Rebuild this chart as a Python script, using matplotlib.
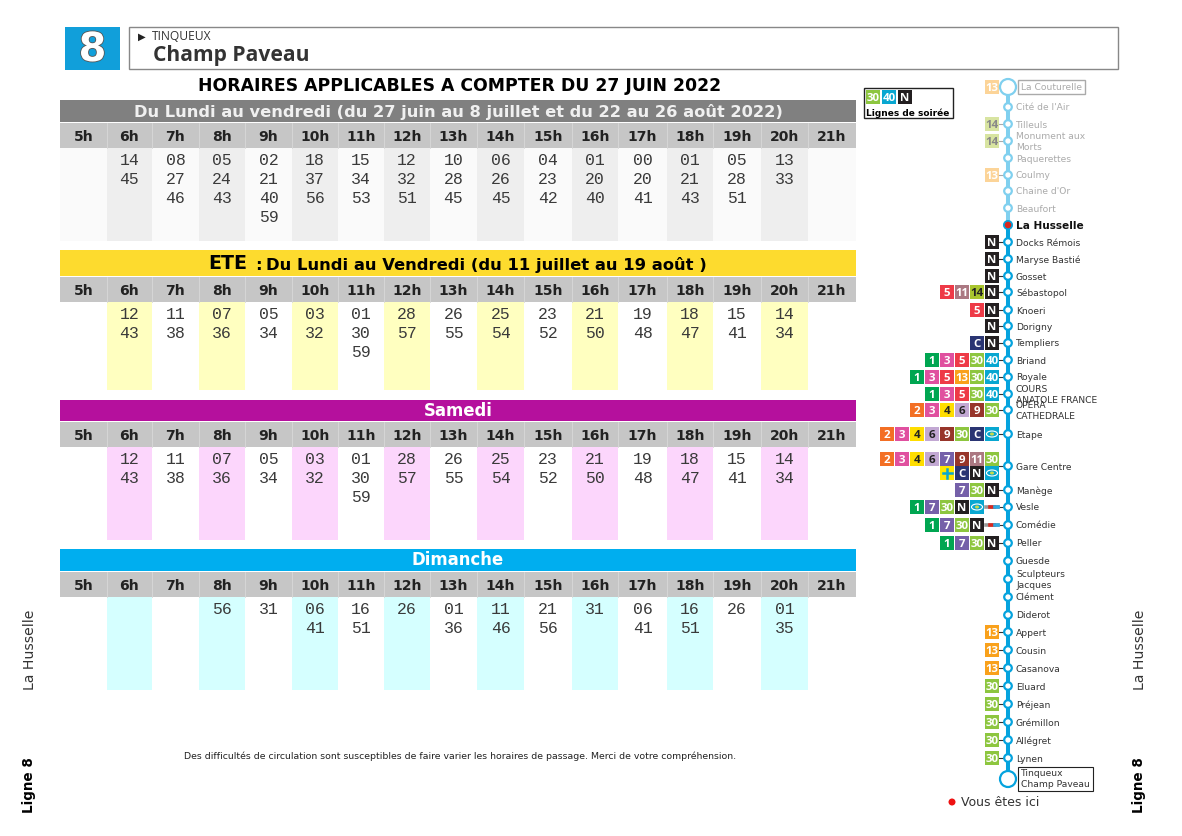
import matplotlib
matplotlib.use("Agg")
import matplotlib.pyplot as plt
import matplotlib.patheffects as pe
from matplotlib.patches import Rectangle, Circle, Ellipse

W, H = 1182, 836


def px(v):
    # font sizes below are given in pixels
    return v * 0.72


# ── Data ─────────────────────────────────────────────────────────────────────
HOURS = ["5h", "6h", "7h", "8h", "9h", "10h", "11h", "12h", "13h", "14h", "15h",
         "16h", "17h", "18h", "19h", "20h", "21h"]

WEEK_TIMES = [[], ["14", "45"], ["08", "27", "46"], ["05", "24", "43"],
              ["02", "21", "40", "59"], ["18", "37", "56"], ["15", "34", "53"],
              ["12", "32", "51"], ["10", "28", "45"], ["06", "26", "45"],
              ["04", "23", "42"], ["01", "20", "40"], ["00", "20", "41"],
              ["01", "21", "43"], ["05", "28", "51"], ["13", "33"], []]
SUMMER_TIMES = [[], ["12", "43"], ["11", "38"], ["07", "36"], ["05", "34"],
                ["03", "32"], ["01", "30", "59"], ["28", "57"], ["26", "55"],
                ["25", "54"], ["23", "52"], ["21", "50"], ["19", "48"],
                ["18", "47"], ["15", "41"], ["14", "34"], []]
SATURDAY_TIMES = [[], ["12", "43"], ["11", "38"], ["07", "36"], ["05", "34"],
                  ["03", "32"], ["01", "30", "59"], ["28", "57"], ["26", "55"],
                  ["25", "54"], ["23", "52"], ["21", "50"], ["19", "48"],
                  ["18", "47"], ["15", "41"], ["14", "34"], []]
SUNDAY_TIMES = [[], [], [], ["56"], ["31"], ["06", "41"], ["16", "51"], ["26"],
                ["01", "36"], ["11", "46"], ["21", "56"], ["31"], ["06", "41"],
                ["16", "51"], ["26"], ["01", "35"], []]

WEEK_TITLE = "Du Lundi au vendredi (du 27 juin au 8 juillet et du 22 au 26 août 2022)"
SUMMER_TITLE = "Du Lundi au Vendredi (du 11 juillet au 19 août )"
SATURDAY_TITLE = "Samedi"
SUNDAY_TITLE = "Dimanche"
MAIN_TITLE = "HORAIRES APPLICABLES A COMPTER DU 27 JUIN 2022"
NOTE = ("Des difficultés de circulation sont susceptibles de faire varier "
        "les horaires de passage. Merci de votre compréhension.")

STOP_NAMES = ["La Couturelle", "Cité de l'Air", "Tilleuls", "Monument aux\nMorts",
              "Paquerettes", "Coulmy", "Chaine d'Or", "Beaufort", "La Husselle",
              "Docks Rémois", "Maryse Bastié", "Gosset", "Sébastopol", "Knoeri",
              "Dorigny", "Templiers", "Briand", "Royale", "COURS\nANATOLE FRANCE",
              "OPÉRA\nCATHEDRALE", "Etape", "Gare Centre", "Manège", "Vesle",
              "Comédie", "Peller", "Guesde", "Sculpteurs\nJacques", "Clément",
              "Diderot", "Appert", "Cousin", "Casanova", "Eluard", "Préjean",
              "Grémillon", "Allégret", "Lynen", "Tinqueux\nChamp Paveau"]
STOP_LINES = [["13"], [], ["14"], ["14"], [], ["13"], [], [], [], ["N"], ["N"], ["N"],
              ["5", "11", "14", "N"], ["5", "N"], ["N"], ["C", "N"],
              ["1", "3", "5", "30", "40"], ["1", "3", "5", "13", "30", "40"],
              ["1", "3", "5", "30", "40"], ["2", "3", "4", "6", "9", "30"],
              ["2", "3", "4", "6", "9", "30", "C", "cloud"],
              ["2", "3", "4", "6", "7", "9", "11", "30"], ["7", "30", "N"],
              ["1", "7", "30", "N", "cloud", "tram"], ["1", "7", "30", "N", "tram"],
              ["1", "7", "30", "N"], [], [], [], [], ["13"], ["13"], ["13"], ["30"],
              ["30"], ["30"], ["30"], ["30"], []]
GARE_SECOND_ROW = ["+", "C", "N", "cloud"]
EVENING_LINES = ["30", "40", "N"]

# ── Layout and styles ────────────────────────────────────────────────────────
COL_EDGES = [60, 107, 152, 199, 245, 292, 338, 384, 430, 477, 524, 572, 618, 667,
             713, 761, 808, 856]
STOP_Y = [87, 107, 124, 141, 158, 175, 191, 208, 225, 242, 259, 276, 292, 310, 326,
          343, 360, 377, 394, 410, 434, 466, 490, 507, 525, 543, 561, 579, 597, 615,
          632, 650, 668, 686, 704, 722, 740, 758, 779]
LINE_X = 1008
BADGE_COL = {"1": "#00a651", "2": "#f36f24", "3": "#e0509f", "4": "#ffdd00",
             "5": "#ee3a47", "6": "#c2a8d3", "7": "#7560a9", "9": "#97352a",
             "11": "#ab7882", "13": "#f9a11b", "14": "#a9c52f", "30": "#8dc63f",
             "40": "#08a7d1", "N": "#231f20", "C": "#2a3573", "+": "#ffe600",
             "cloud": "#08a7d1"}
DARK_TEXT = {"4", "6", "14"}
BLUE = "#05a3de"

fig = plt.figure(figsize=(W / 100, H / 100), dpi=100)
ax = fig.add_axes([0, 0, 1, 1])
ax.set_xlim(0, W)
ax.set_ylim(H, 0)
ax.axis("off")


def rect(x0, y0, x1, y1, **kw):
    kw.setdefault("lw", 0)
    ax.add_patch(Rectangle((x0, y0), x1 - x0, y1 - y0, **kw))


def draw_table(times, top, bottom, shade, base):
    # hour strip then the body with one column out of two tinted
    hour_top = top
    body_top = top + 25
    rect(COL_EDGES[0], hour_top, COL_EDGES[-1], body_top, fc="#c6c6c6")
    for i, hour in enumerate(HOURS):
        cx = (COL_EDGES[i] + COL_EDGES[i + 1]) / 2
        if i > 0:
            ax.plot([COL_EDGES[i]] * 2, [hour_top, body_top], color="#d8d8d8", lw=0.6)
        rect(COL_EDGES[i], body_top, COL_EDGES[i + 1], bottom,
             fc=shade if i % 2 == 1 and i < 16 else base)
        ax.text(cx, hour_top + 18, hour, ha="center", va="baseline",
                fontsize=px(14), fontweight="bold", color="#222222")
        # baseline alignment keeps the 19 px row step even
        for j, minute in enumerate(times[i]):
            ax.text(cx, body_top + 17 + j * 19, minute, ha="center", va="baseline",
                    fontsize=px(16.5), family="Liberation Mono", color="#3a3a3a")


def draw_badge(label, x, y, faded=False):
    col = BADGE_COL[label]
    rect(x, y - 7, x + 14, y + 7, fc=col, alpha=0.45 if faded else 1, zorder=3)
    if label == "cloud":
        ax.add_patch(Ellipse((x + 7, y), 11, 6, fc="none", ec="white", lw=0.8, zorder=4))
        ax.add_patch(Ellipse((x + 7, y), 4, 3, fc="#c9d94a", lw=0, zorder=4))
        return
    if label == "+":
        ax.plot([x + 2.5, x + 11.5], [y, y], color="#08a7d1", lw=1.8, zorder=4)
        ax.plot([x + 7, x + 7], [y - 4.5, y + 4.5], color="#08a7d1", lw=1.8, zorder=4)
        return
    tcol = "#222222" if label in DARK_TEXT else "white"
    if faded:
        tcol = "#888888" if label == "14" else "white"
    ax.text(x + 7, y, label, ha="center", va="center_baseline", fontsize=px(11.5),
            fontweight="bold", family="Open Sans", color=tcol, zorder=4)


# ── Header ───────────────────────────────────────────────────────────────────
rect(65, 27, 120, 70, fc="#119fda")
ax.text(92.5, 50, "8", ha="center", va="center", fontsize=px(40), fontweight="bold",
        color="white", path_effects=[pe.withStroke(linewidth=1.2, foreground="#555555")])
rect(129, 27, 1118, 69, fc="white", ec="#888888", lw=1)
ax.text(138, 36.5, "▶", ha="left", va="center", fontsize=px(10), color="#222222")
ax.text(152, 36.5, "TINQUEUX", ha="left", va="center", fontsize=px(12),
        family="Open Sans", color="#333333")
ax.text(153, 55, "Champ Paveau", ha="left", va="center", fontsize=px(21),
        family="Open Sans", fontweight="bold", color="#333333")
ax.text(460, 86, MAIN_TITLE, ha="center", va="center", fontsize=px(17.2),
        fontweight="bold", color="black")

# ── Timetables ───────────────────────────────────────────────────────────────
rect(60, 100, 856, 122, fc="#808080")
ax.text(458, 111.5, WEEK_TITLE, ha="center", va="center", fontsize=px(16.2),
        fontweight="bold", color="#f0f0f0")
draw_table(WEEK_TIMES, 123, 241, "#eeeeee", "#fafafa")

rect(60, 250, 856, 276, fc="#fddb2e")
ax.text(208, 263.5, "ETE", ha="left", va="center", fontsize=px(19), fontweight="bold",
        color="black")
ax.text(255, 265, ":", ha="left", va="center", fontsize=px(16.4), fontweight="bold",
        color="black")
ax.text(266, 265, SUMMER_TITLE, ha="left", va="center", fontsize=px(16.4),
        fontweight="bold", color="black")
draw_table(SUMMER_TIMES, 277, 390, "#ffffc0", "white")

rect(60, 400, 856, 421, fc="#b5109d")
ax.text(458, 411, SATURDAY_TITLE, ha="center", va="center", fontsize=px(16.5),
        fontweight="bold", color="white")
draw_table(SATURDAY_TIMES, 422, 540, "#fcd6fc", "white")

rect(60, 549, 856, 571, fc="#00aeef")
ax.text(458, 560, SUNDAY_TITLE, ha="center", va="center", fontsize=px(16.5),
        fontweight="bold", color="white")
draw_table(SUNDAY_TIMES, 572, 690, "#d5ffff", "white")

ax.text(460, 756, NOTE, ha="center", va="center", fontsize=px(9.4), color="#222222")

# ── Side labels ──────────────────────────────────────────────────────────────
for x in (29.5, 1139.5):
    ax.text(x, 650, "La Husselle", rotation=90, ha="center", va="center",
            fontsize=px(14), color="#333333")
    ax.text(x, 785, "Ligne 8", rotation=90, ha="center", va="center",
            fontsize=px(13.5), fontweight="bold", color="black")

# ── Evening lines legend ─────────────────────────────────────────────────────
rect(864, 88, 953, 118, fc="white", ec="#222222", lw=1)
for i, label in enumerate(EVENING_LINES):
    draw_badge(label, 866 + i * 16, 97)
ax.text(866, 113, "Lignes de soirée", ha="left", va="center", fontsize=px(9),
        fontweight="bold", color="black")

# ── Line diagram ─────────────────────────────────────────────────────────────
here = STOP_NAMES.index("La Husselle")
ax.plot([LINE_X, LINE_X], [STOP_Y[0], STOP_Y[here]], color="#80d0ef", lw=2.9, zorder=1)
ax.plot([LINE_X, LINE_X], [STOP_Y[here], STOP_Y[-1]], color=BLUE, lw=2.9, zorder=1)

for i, (name, y, lines) in enumerate(zip(STOP_NAMES, STOP_Y, STOP_LINES)):
    faded = i < here
    ring = "#80d0ef" if faded else BLUE
    last = i == len(STOP_NAMES) - 1
    r = 8 if i == 0 or last else 3.8
    ax.add_patch(Circle((LINE_X, y), r, fc="white", ec=ring, lw=1.6, zorder=5))
    if i == here:
        ax.add_patch(Circle((LINE_X, y), 4, fc="#d8281f", ec=BLUE, lw=1, zorder=6))

    # badges sit to the left of the stop, aligned on the right
    row = [b for b in lines if b != "tram"]
    right = 985
    if "tram" in lines:
        right = 970
        ax.plot([986, 998], [y, y], color="#999999", lw=2.6, zorder=3)
        ax.plot([990, 994], [y, y], color="#d8281f", lw=2.6, zorder=4)
        ax.plot([995, 998], [y, y], color="#2fa9e0", lw=2.6, zorder=4)
    if lines:
        ax.plot([999, LINE_X], [y, y], color="#333333" if not faded else "#aaaaaa",
                lw=0.8, zorder=2)
    if name == "Gare Centre":
        for k, b in enumerate(row):
            draw_badge(b, right - (len(row) - 1 - k) * 15, y - 7, faded)
        for k, b in enumerate(GARE_SECOND_ROW):
            draw_badge(b, right - (len(GARE_SECOND_ROW) - 1 - k) * 15, y + 7, faded)
    else:
        for k, b in enumerate(row):
            draw_badge(b, right - (len(row) - 1 - k) * 15, y, faded)

    # stop names
    if i == 0:
        ax.text(1021, y + 0.5, name, ha="left", va="center", fontsize=px(9.2),
                color="#aaaaaa", zorder=3)
        rect(1018, y - 7, 1085, y + 7, fc="white", ec="#aaaaaa", lw=1, zorder=2)
    elif last:
        rect(1018, y - 12, 1093, y + 12, fc="white", ec="#222222", lw=0.8, zorder=2)
        ax.text(1021, y, name, ha="left", va="center", fontsize=px(9.2),
                color="#333333", linespacing=1.15, zorder=3)
    elif i == here:
        ax.text(1016, y + 1, name, ha="left", va="center", fontsize=px(10.5),
                fontweight="bold", color="#111111")
    else:
        ax.text(1016, y + 1, name, ha="left", va="center", fontsize=px(9.2),
                color="#aaaaaa" if faded else "#333333", linespacing=1.15)

ax.add_patch(Circle((952, 802), 3.5, fc="#ee1111", lw=0))
ax.text(961, 802, "Vous êtes ici", ha="left", va="center", fontsize=px(12.5),
        color="#333333")

fig.savefig("out.png", dpi=100)
